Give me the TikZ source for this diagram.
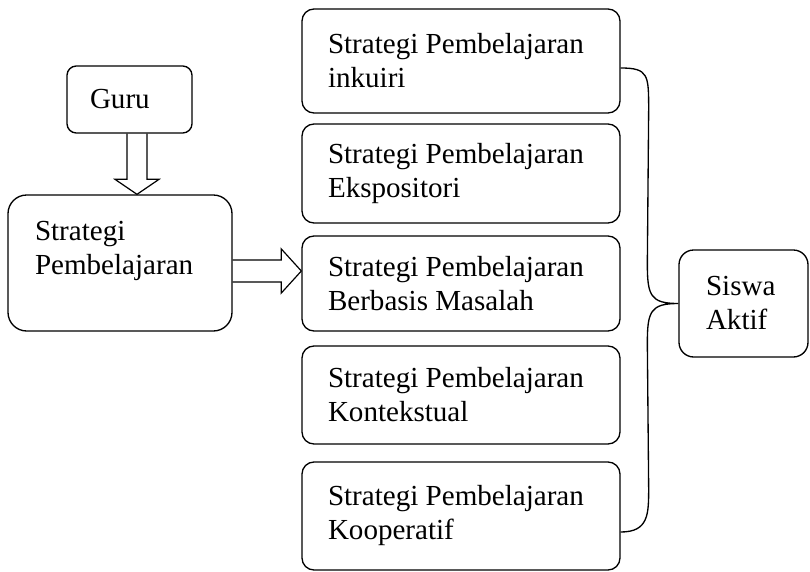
\documentclass[tikz,border=0pt]{standalone}
\usepackage{fontspec}
\setmainfont{Liberation Serif}
\usetikzlibrary{calc}
\newcommand\btxt[2]{\parbox{#1}{\raggedright #2}}
\begin{document}
\begin{tikzpicture}[x=0.75pt,y=-0.75pt,
  box/.style={draw, line width=1pt, rounded corners=9pt, inner sep=0pt,
    font=\fontsize{21.8pt}{25.5pt}\selectfont},
  rbox/.style={box, minimum width=238.5pt},
  hollow/.style={draw, line width=0.9pt, line join=miter},
  brace/.style={draw, line width=1pt}]
\useasboundingbox (0,0) rectangle (810,571);

\node[box, minimum width=93.75pt, minimum height=50.25pt, rounded corners=7pt] (guru) at (129.5,99.5) {\btxt{59.25pt}{Guru}};
\node[box, minimum width=168pt, minimum height=102pt, rounded corners=14pt] (strat) at (120,263)
  {\btxt{127.5pt}{Strategi\\Pembelajaran\par\vspace{18pt}}};

\node[rbox, minimum height=78pt] (b1) at (461,61) {\btxt{199.5pt}{Strategi Pembelajaran\\inkuiri}};
\node[rbox, minimum height=74.25pt] (b2) at (461,173.5) {\btxt{199.5pt}{Strategi Pembelajaran\\Ekspositori}};
\node[rbox, minimum height=71.25pt] (b3) at (461,283.5) {\btxt{199.5pt}{Strategi Pembelajaran\\Berbasis Masalah}};
\node[rbox, minimum height=73.5pt] (b4) at (461,395) {\btxt{199.5pt}{Strategi Pembelajaran\\Kontekstual}};
\node[rbox, minimum height=81pt] (b5) at (461,516) {\btxt{199.5pt}{Strategi Pembelajaran\\Kooperatif}};

\node[box, minimum width=96.75pt, minimum height=80.25pt, rounded corners=11pt] (siswa) at (743.5,303.5) {\btxt{56.25pt}{Siswa\\Aktif}};

% vertical hollow arrow Guru -> Strategi
\coordinate (va) at (137,0);
\draw[hollow] ($(va|-guru.south)+(-10,0)$) -- ($(va|-strat.north)+(-10,-15)$)
  -- ($(va|-strat.north)+(-22,-15)$) -- (va|-strat.north)
  -- ($(va|-strat.north)+(22,-15)$) -- ($(va|-strat.north)+(10,-15)$)
  -- ($(va|-guru.south)+(10,0)$);

% horizontal hollow arrow Strategi -> b3
\coordinate (ha) at (0,271);
\draw[hollow] ($(ha-|strat.east)+(0,-11)$) -- ($(ha-|b3.west)+(-20,-11)$)
  -- ($(ha-|b3.west)+(-20,-22)$) -- (ha-|b3.west)
  -- ($(ha-|b3.west)+(-20,22)$) -- ($(ha-|b3.west)+(-20,11)$)
  -- ($(ha-|strat.east)+(0,11)$);

% brace to Siswa Aktif
\draw[brace] ($(b1.east)+(0,7)$) .. controls +(28,0) and +(0,-35) .. ++(28,42)
  -- ($(siswa.west)+(-31,-40)$) .. controls +(0,32) and +(-28,0) .. (siswa.west)
  .. controls +(-28,0) and +(0,-32) .. ($(siswa.west)+(-31,40)$)
  -- ($(b5.east)+(28,-28)$) .. controls +(0,26) and +(28,0) .. ($(b5.east)+(0,16)$);
\end{tikzpicture}
\end{document}
